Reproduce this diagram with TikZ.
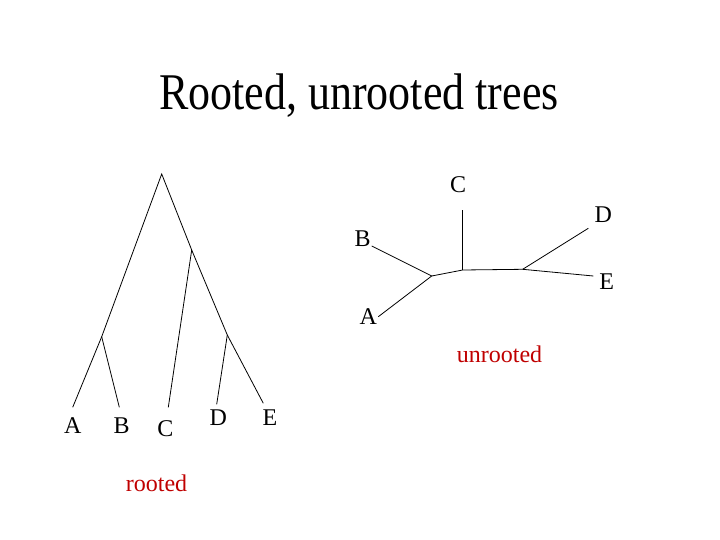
\documentclass[tikz,border=0pt]{standalone}
\usepackage{fontspec}
\setmainfont{Liberation Serif}
\definecolor{lblred}{RGB}{192,0,0}
\begin{document}
\begin{tikzpicture}[x=1pt,y=-1pt,
  edge/.style={draw=black,line width=0.8pt},
  leaf/.style={font=\fontsize{24}{28}\selectfont,inner sep=0pt,anchor=center},
  caption/.style={font=\fontsize{24}{28}\selectfont,text=lblred,inner sep=0pt,anchor=base}]
\useasboundingbox[fill=white] (0,0) rectangle (720,540);
% title
\node[inner sep=0pt,anchor=base] (title) at (359,109.5)
  {\scalebox{1}[1.17]{\fontsize{44}{50}\selectfont Rooted, unrooted trees}};
% rooted tree
\coordinate (root) at (161.7,174);
\coordinate (jAB) at (101.7,336.7);
\coordinate (jCDE) at (191.7,250);
\coordinate (jDE) at (227.3,335);
\coordinate (la) at (72.7,407.3);
\coordinate (lb) at (119.3,407.3);
\coordinate (lc) at (168.3,407.3);
\coordinate (ld) at (216.7,404.3);
\coordinate (le) at (263.3,403.3);
\draw[edge] (la) -- (jAB) -- (root) -- (jCDE) -- (jDE) -- (le);
\draw[edge] (jAB) -- (lb);
\draw[edge] (jCDE) -- (lc);
\draw[edge] (jDE) -- (ld);
\node[leaf] (tA) at (72.7,425.3) {A};
\node[leaf] (tB) at (121.7,425.3) {B};
\node[leaf] (tC) at (165.5,428.3) {C};
\node[leaf] (tD) at (218.3,417.3) {D};
\node[leaf] (tE) at (270,417.3) {E};
\node[caption] (rooted) at (156.5,491.5) {rooted};
% unrooted tree
\coordinate (uL) at (431.7,276);
\coordinate (uC) at (462.7,270);
\coordinate (uR) at (522.7,269.3);
\coordinate (uCt) at (462.7,210);
\coordinate (uA) at (378.3,316.7);
\coordinate (uB) at (371.7,246);
\coordinate (uD) at (588.3,228.3);
\coordinate (uE) at (593.3,276);
\draw[edge] (uA) -- (uL) -- (uC) -- (uR) -- (uE);
\draw[edge] (uB) -- (uL);
\draw[edge] (uC) -- (uCt);
\draw[edge] (uR) -- (uD);
\node[leaf] (uTC) at (458,185) {C};
\node[leaf] (uTD) at (603.3,215) {D};
\node[leaf] (uTB) at (362.7,239) {B};
\node[leaf] (uTE) at (606.7,282) {E};
\node[leaf] (uTA) at (368.3,317) {A};
\node[caption] (unrooted) at (499.5,362) {unrooted};
\end{tikzpicture}
\end{document}
